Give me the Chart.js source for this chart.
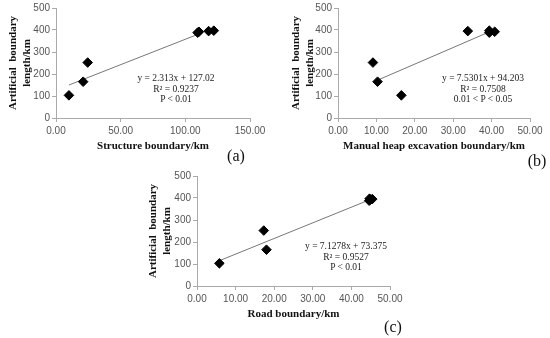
<!DOCTYPE html>
<html>
<head>
<meta charset="utf-8">
<script src="https://cdn.jsdelivr.net/npm/chart.js@4.4.1/dist/chart.umd.min.js"></script>
<style>
  body { margin: 0; background: #fff; }
  #page { position: relative; width: 550px; height: 338px; overflow: hidden; }
  .box { position: absolute; }
  .eq { position: absolute; font: 9.5px "Liberation Serif", serif; color: #222; text-align: center; line-height: 10.5px; white-space: nowrap; transform: translateX(-50%); }
  .tag { position: absolute; font: 16px "Liberation Serif", serif; color: #111; transform: translate(-50%, -50%); }
</style>
</head>
<body>
<div id="page">
  <div class="box" style="left:0;top:0;width:270px;height:153px"><canvas id="chartA"></canvas></div>
  <div class="box" style="left:283px;top:0;width:267px;height:153px"><canvas id="chartB"></canvas></div>
  <div class="box" style="left:140px;top:168px;width:270px;height:153px"><canvas id="chartC"></canvas></div>

  <div class="eq" style="left:176px;top:73px">y = 2.313x + 127.02<br>R² = 0.9237<br>P &lt; 0.01</div>
  <div class="eq" style="left:483px;top:73px">y = 7.5301x + 94.203<br>R² = 0.7508<br>0.01 &lt; P &lt; 0.05</div>
  <div class="eq" style="left:346px;top:241px">y = 7.1278x + 73.375<br>R² = 0.9527<br>P &lt; 0.01</div>

  <div class="tag" style="left:236px;top:156px">(a)</div>
  <div class="tag" style="left:537px;top:161px">(b)</div>
  <div class="tag" style="left:393px;top:327px">(c)</div>
</div>
<script>
// Artificial boundary length (km) per panel
const structX = [10, 21, 24.5, 109.5, 110.5, 118, 122];
const structY = [103, 165, 252, 388, 392, 395, 397];
const manualX = [16.5, 10.3, 9.1, 39.4, 40.8, 33.8, 39.4];
const manualY = [103, 165, 252, 388, 392, 395, 397];
const roadX = [5.8, 18.0, 17.3, 44.6, 44.9, 45.4, 44.7];
const roadY = [103, 165, 252, 388, 392, 395, 397];

// Trend line end points
const structTrendX = [10, 110];
const structTrendY = [150, 381];
const manualTrendX = [10.3, 39.5];
const manualTrendY = [172, 392];
const roadTrendX = [5.8, 44.6];
const roadTrendY = [115, 391];

const yTicks = [0, 100, 200, 300, 400, 500];

const tickFont = { family: "'Liberation Sans', Arial, sans-serif", size: 10 };
const titleFont = { family: "'Liberation Serif', 'Times New Roman', serif", size: 11, weight: "bold" };

function makeChart(id, xs, ys, tx, ty, xMax, xStep, xTitle, yWidth) {
  const pts = xs.map((x, i) => ({ x: x, y: ys[i] }));
  const trend = tx.map((x, i) => ({ x: x, y: ty[i] }));
  new Chart(document.getElementById(id).getContext("2d"), {
    type: "scatter",
    data: {
      datasets: [
        {
          data: trend,
          showLine: true,
          borderColor: "#777",
          borderWidth: 1,
          pointRadius: 0,
          order: 2,
        },
        {
          data: pts,
          pointStyle: "rectRot",
          pointRadius: 4.8,
          backgroundColor: "#000",
          borderColor: "#000",
          order: 1,
        },
      ],
    },
    options: {
      responsive: true,
      maintainAspectRatio: false,
      animation: false,
      layout: { padding: { top: 7, right: 20, left: 7, bottom: 0 } },
      plugins: { legend: { display: false }, tooltip: { enabled: false } },
      scales: {
        x: {
          type: "linear",
          min: 0,
          max: xMax,
          ticks: {
            stepSize: xStep,
            color: "#555",
            font: tickFont,
            padding: 3,
            callback: (v) => v.toFixed(2),
          },
          grid: { display: true, drawOnChartArea: false, tickLength: 4, color: "#aaa" },
          border: { color: "#aaa" },
          title: { display: true, text: xTitle, font: titleFont, color: "#111", padding: 0 },
          afterFit: (s) => { s.height = 35; },
        },
        y: {
          min: 0,
          max: 500,
          afterBuildTicks: (s) => { s.ticks = yTicks.map((v) => ({ value: v })); },
          ticks: { color: "#555", font: tickFont, padding: 2 },
          grid: { display: true, drawOnChartArea: false, tickLength: 4, color: "#aaa" },
          border: { color: "#aaa" },
          title: {
            display: true,
            text: ["Artificial  boundary", "length/km"],
            font: titleFont,
            color: "#111",
            padding: 0,
          },
          afterFit: (s) => { s.width = yWidth; },
        },
      },
    },
  });
}

makeChart("chartA", structX, structY, structTrendX, structTrendY, 150, 50, "Structure boundary/km", 49);
makeChart("chartB", manualX, manualY, manualTrendX, manualTrendY, 50, 10, "Manual heap excavation boundary/km", 48);
makeChart("chartC", roadX, roadY, roadTrendX, roadTrendY, 50, 10, "Road boundary/km", 50);
</script>
</body>
</html>
